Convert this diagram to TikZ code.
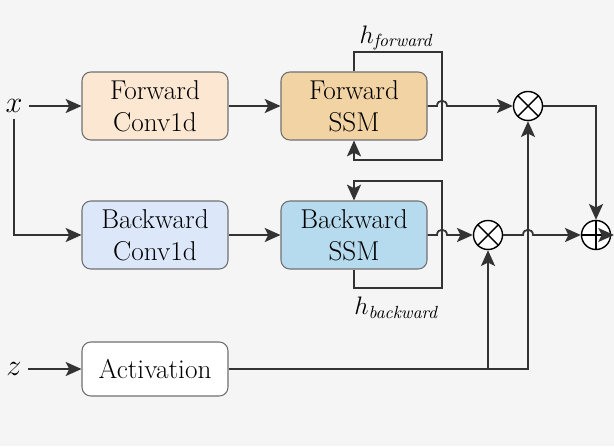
\documentclass[tikz,border=0pt]{standalone}
\usepackage{tikz}
\usetikzlibrary{arrows.meta,positioning,shapes.geometric}
\definecolor{bg}{HTML}{F5F5F5}
\definecolor{fwdconv}{HTML}{FCE8D2}
\definecolor{fwdssm}{HTML}{F2D3A4}
\definecolor{bwdconv}{HTML}{DCE8FA}
\definecolor{bwdssm}{HTML}{B6DAEE}
\definecolor{wire}{HTML}{333333}
\begin{document}
\begin{tikzpicture}[x=0.02cm, y=0.02cm, >={Stealth[length=9pt,width=8pt,inset=2pt]},
  blk/.style={draw=wire!70, rounded corners=5pt, minimum width=2.92cm, minimum height=1.36cm,
    align=center, font=\fontsize{15.5}{18}\selectfont, line width=0.6pt},
  op/.style={circle, draw=black, fill=white, minimum size=0.58cm, inner sep=0pt, line width=0.8pt},
  wr/.style={draw=wire, line width=1pt},
  lbl/.style={font=\fontsize{14}{14}\selectfont}]
  \fill[bg] (0,0) rectangle (614,-446);
  \useasboundingbox (0,0) rectangle (614,-446);
  % inputs
  \node[font=\fontsize{19}{19}\selectfont] (xin) at (14,-106) {$x$};
  \node[font=\fontsize{19}{19}\selectfont] (zin) at (14,-369) {$z$};
  % blocks
  \node[blk, fill=fwdconv] (fconv) at (155,-106) {Forward\\Conv1d};
  \node[blk, fill=fwdssm] (fssm) at (354,-106) {Forward\\SSM};
  \node[blk, fill=bwdconv] (bconv) at (155,-235) {Backward\\Conv1d};
  \node[blk, fill=bwdssm] (bssm) at (354,-235) {Backward\\SSM};
  \node[blk, fill=white, minimum height=1.08cm] (act) at (155,-369) {Activation};
  % operators
  \node[op] (mulf) at (528,-106) {};
  \draw[line width=0.8pt] (mulf.north west) -- (mulf.south east) (mulf.north east) -- (mulf.south west);
  \node[op] (mulb) at (488,-235) {};
  \draw[line width=0.8pt] (mulb.north west) -- (mulb.south east) (mulb.north east) -- (mulb.south west);
  \node[op] (add) at (596,-235) {};
  \draw[line width=0.8pt] (add.north) -- (add.south) (add.west) -- (add.east);
  % wires
  \draw[wr, ->] (xin) -- (fconv);
  \draw[wr, ->] (xin.south) |- (bconv.west);
  \draw[wr, ->] (zin) -- (act);
  \draw[wr, ->] (fconv) -- (fssm);
  \draw[wr, ->] (bconv) -- (bssm);
  % recurrent loops
  \draw[wr, ->] (fssm.north) |- (442,-52) -- (442,-160) -| (fssm.south);
  \node[lbl] (hf) at (397,-38) {$h_{\mathit{forward}}$};
  \draw[wr, ->] (bssm.south) |- (442,-288) -- (442,-181) -| (bssm.north);
  \node[lbl] (hb) at (397,-308) {$h_{\mathit{backward}}$};
  % outputs with hops
  \draw[wr, ->] (fssm.east) -- (437,-106) .. controls (437,-99) and (447,-99) .. (447,-106) -- (mulf.west);
  \draw[wr, ->] (bssm.east) -- (437,-235) .. controls (437,-228) and (447,-228) .. (447,-235) -- (mulb.west);
  \draw[wr, ->] (mulb.east) -- (523,-235) .. controls (523,-228) and (533,-228) .. (533,-235) -- (add.west);
  \draw[wr, ->] (mulf.east) -| (add.north);
  \draw[wr, ->] (add.east) -- (614,-235);
  \draw[wr, ->] (act.east) -| (mulf.south);
  \coordinate (tap) at (mulb |- act);
  \draw[wr, ->] (tap) -- (mulb.south);
\end{tikzpicture}
\end{document}
